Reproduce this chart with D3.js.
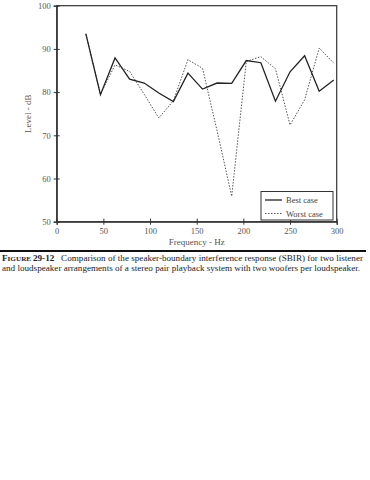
<!DOCTYPE html>
<html>
<head>
<meta charset="utf-8">
<script src="https://cdn.jsdelivr.net/npm/d3@7"></script>
<style>
  body { margin: 0; background: #fff; }
  svg text { font-family: "Liberation Serif", "DejaVu Serif", serif; }
</style>
</head>
<body>
<div id="chart"></div>
<script>
// frequencies (Hz) and levels (dB)
var freqs = [31.25, 46.875, 62.5, 78.125, 93.75, 109.375, 125, 140.625, 156.25,
             171.875, 187.5, 203.125, 218.75, 234.375, 250, 265.625, 281.25, 296.875];
var bestCase  = [93.5, 79.4, 87.9, 83.0, 82.1, 79.8, 77.8, 84.4, 80.7,
                 82.1, 82.0, 87.3, 86.8, 77.9, 84.7, 88.4, 80.2, 82.8];
var worstCase = [93.5, 79.5, 86.3, 84.8, 79.5, 74.0, 78.0, 87.5, 85.5,
                 71.0, 55.9, 87.1, 88.2, 85.4, 72.4, 78.2, 90.2, 86.7];
var xTicks = [0, 50, 100, 150, 200, 250, 300];
var yTicks = [50, 60, 70, 80, 90, 100];
var seriesNames = ["Best case", "Worst case"];

var svg = d3.select("#chart").append("svg")
  .attr("width", 370)
  .attr("height", 480);

// plot box
var pLeft = 56.7, pRight = 336.7, pTop = 5.7, pBottom = 221.7;

var x = d3.scaleLinear().domain([0, 300]).range([pLeft, pRight]);
var y = d3.scaleLinear().domain([50, 100]).range([pBottom, pTop]);

// frame
svg.append("rect")
  .attr("x", pLeft).attr("y", pTop)
  .attr("width", pRight - pLeft).attr("height", pBottom - pTop)
  .attr("fill", "none").attr("stroke", "#333").attr("stroke-width", 1.2);

// axes (ticks crossing the axis line)
var yAxis = svg.append("g").attr("transform", "translate(" + pLeft + ",0)")
  .call(d3.axisLeft(y).tickValues(yTicks).tickSize(3).tickPadding(3));
yAxis.selectAll(".tick line").clone().attr("x2", 3);
var xAxis = svg.append("g").attr("transform", "translate(0," + pBottom + ")")
  .call(d3.axisBottom(x).tickValues(xTicks).tickSize(3).tickPadding(3));
xAxis.selectAll(".tick line").clone().attr("y2", -3);

[yAxis, xAxis].forEach(function(a) {
  a.select(".domain").attr("stroke", "#333").attr("stroke-width", 1.2);
  a.selectAll("line").attr("stroke", "#333");
  a.selectAll("text").attr("font-size", 8.5).attr("fill", "#555")
    .style("font-family", "'Liberation Serif', serif");
});

// axis titles
svg.append("text")
  .attr("transform", "translate(31," + ((pTop + pBottom) / 2) + ") rotate(-90)")
  .attr("text-anchor", "middle").attr("font-size", 9).attr("fill", "#555")
  .text("Level - dB");
svg.append("text")
  .attr("x", (pLeft + pRight) / 2).attr("y", 245)
  .attr("text-anchor", "middle").attr("font-size", 9).attr("fill", "#555")
  .text("Frequency - Hz");

// lines
var line = d3.line()
  .x(function(d) { return x(d[0]); })
  .y(function(d) { return y(d[1]); });

svg.append("path")
  .datum(d3.zip(freqs, worstCase))
  .attr("d", line)
  .attr("fill", "none").attr("stroke", "#555").attr("stroke-width", 1)
  .attr("stroke-dasharray", "1.5,1.5");

svg.append("path")
  .datum(d3.zip(freqs, bestCase))
  .attr("d", line)
  .attr("fill", "none").attr("stroke", "#222").attr("stroke-width", 1.3);

// legend
var lg = svg.append("g").attr("transform", "translate(261,191.5)");
lg.append("rect").attr("width", 72).attr("height", 28.5)
  .attr("fill", "#fff").attr("stroke", "#333").attr("stroke-width", 1);
seriesNames.forEach(function(name, i) {
  var yy = 8.5 + i * 13.5;
  lg.append("line").attr("x1", 4).attr("x2", 21).attr("y1", yy).attr("y2", yy)
    .attr("stroke", i ? "#555" : "#222").attr("stroke-width", i ? 1 : 1.3)
    .attr("stroke-dasharray", i ? "1.5,1.5" : null);
  lg.append("text").attr("x", 25).attr("y", yy + 3)
    .attr("font-size", 8.5).attr("fill", "#444").text(name);
});

// caption
svg.append("line").attr("x1", 0).attr("x2", 366).attr("y1", 251).attr("y2", 251)
  .attr("stroke", "#111").attr("stroke-width", 2);

var cap1 = svg.append("text").attr("x", 2).attr("y", 261)
  .attr("font-size", 7.6).attr("fill", "#222")
  .attr("textLength", 361).attr("lengthAdjust", "spacingAndGlyphs");
cap1.append("tspan").attr("font-weight", "bold").text("F");
cap1.append("tspan").attr("font-weight", "bold").attr("font-size", 6).text("IGURE ");
cap1.append("tspan").attr("font-weight", "bold").text("29-12");
cap1.append("tspan")
  .text("\u00a0\u00a0\u00a0Comparison of the speaker-boundary interference response (SBIR) for two listener");

svg.append("text").attr("x", 2).attr("y", 271)
  .attr("font-size", 7.6).attr("fill", "#222")
  .attr("textLength", 358).attr("lengthAdjust", "spacingAndGlyphs")
  .text("and loudspeaker arrangements of a stereo pair playback system with two woofers per loudspeaker.");
</script>
</body>
</html>
